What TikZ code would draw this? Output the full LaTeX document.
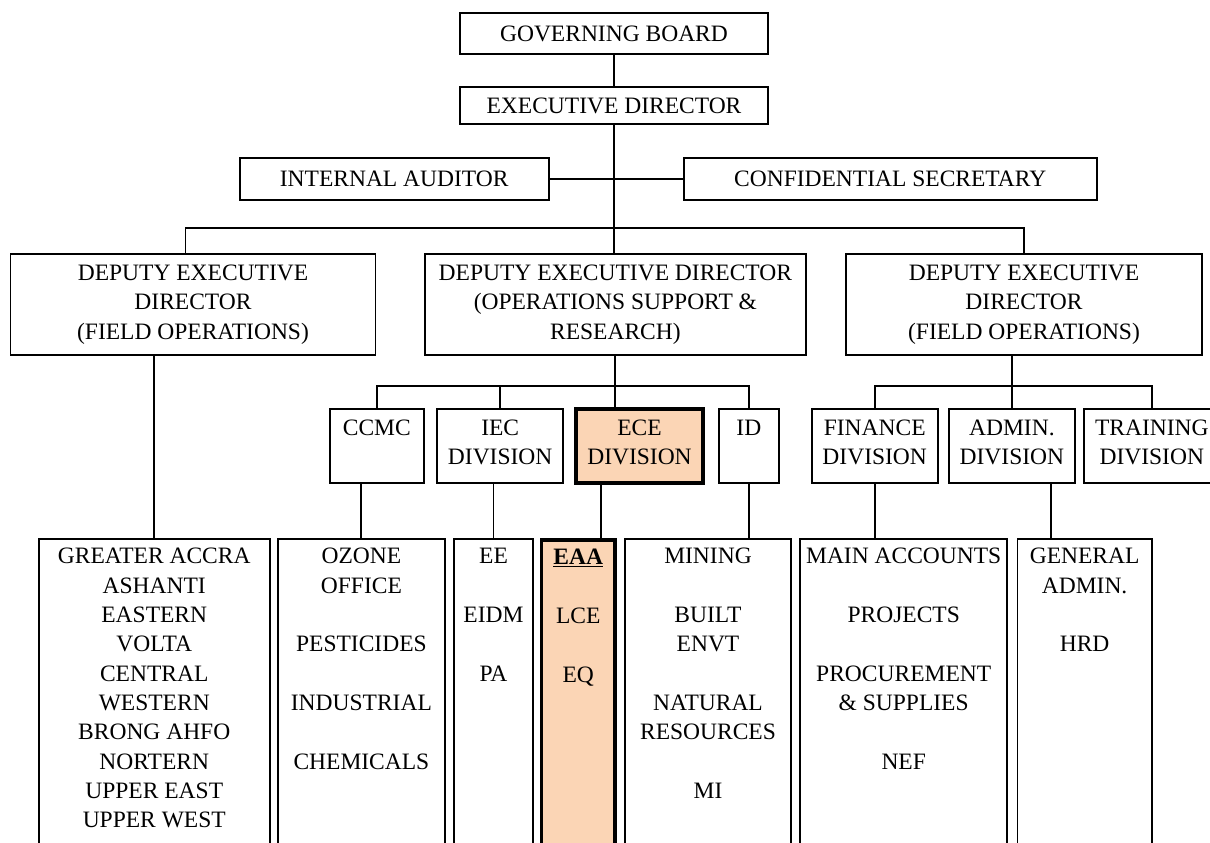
\documentclass[tikz,border=0pt]{standalone}
\usepackage{fontspec}
\setmainfont{Liberation Serif}
\definecolor{peach}{HTML}{FBD5B5}
\newcommand\chartfont{\fontsize{23.5pt}{29.3pt}\selectfont}
% width, height, first-baseline strut, lines (top aligned, centred)
\newcommand\topstack[4]{\parbox[c][#2][t]{#1}{\centering\rule{0pt}{#3}#4\par}}
\newcommand\gap{29.3pt}
\begin{document}
\begin{tikzpicture}[x=1pt,y=-1pt,
  box/.style={draw, line width=1.9pt, inner sep=0pt, align=center, font=\chartfont},
  hot/.style={box, fill=peach, line width=3.6pt},
  link/.style={line width=1.9pt}]
\useasboundingbox (0,0) rectangle (1210,843);
\clip (0,0) rectangle (1210,843);

% top of the chart
\node[box, minimum width=308.5pt, minimum height=41pt] (gb) at (614,33.5) {GOVERNING BOARD};
\node[box, minimum width=308.5pt, minimum height=37pt] (ed) at (614,105.7) {EXECUTIVE DIRECTOR};
\node[box, minimum width=308.8pt, minimum height=42pt] (ia) at (394.2,179) {INTERNAL AUDITOR};
\node[box, minimum width=413.3pt, minimum height=42pt] (cs) at (890.2,179) {CONFIDENTIAL SECRETARY};

% deputy directors
\node[box, minimum width=365pt, minimum height=101pt] (dedL) at (193,304.5)
  {DEPUTY EXECUTIVE\\DIRECTOR\\(FIELD OPERATIONS)};
\node[box, minimum width=381pt, minimum height=101pt] (dedM) at (615.4,304.5)
  {DEPUTY EXECUTIVE DIRECTOR\\(OPERATIONS SUPPORT \&\\RESEARCH)};
\node[box, minimum width=356pt, minimum height=101pt] (dedR) at (1024,304.5)
  {DEPUTY EXECUTIVE\\DIRECTOR\\(FIELD OPERATIONS)};

% divisions
\node[box] (ccmc) at (376.8,446) {\topstack{94.4pt}{74pt}{26pt}{CCMC}};
\node[box] (iec)  at (500.2,446) {\topstack{126.4pt}{74pt}{26pt}{IEC\\DIVISION}};
\node[hot] (ece)  at (639.5,446) {\topstack{127pt}{74pt}{26pt}{ECE\\DIVISION}};
\node[box] (id)   at (748.85,446) {\topstack{60.3pt}{74pt}{26pt}{ID}};
\node[box] (fin)  at (874.7,446) {\topstack{126pt}{74pt}{26pt}{FINANCE\\DIVISION}};
\node[box] (adm)  at (1011.9,446) {\topstack{125.7pt}{74pt}{26pt}{ADMIN.\\DIVISION}};
\node[box] (trn)  at (1151.8,446) {\topstack{136pt}{74pt}{26pt}{TRAINING\\DIVISION}};

% units
\node[box, anchor=north] (reg) at (154.25,538) {\topstack{230.7pt}{320pt}{25pt}{GREATER ACCRA\\ASHANTI\\EASTERN\\VOLTA\\CENTRAL\\WESTERN\\BRONG AHFO\\NORTERN\\UPPER EAST\\UPPER WEST}};
\node[box, anchor=north] (ccmcS) at (361.4,538) {\topstack{167.2pt}{320pt}{25pt}{OZONE\\OFFICE\\[\gap]PESTICIDES\\[\gap]INDUSTRIAL\\[\gap]CHEMICALS}};
\node[box, anchor=north] (iecS) at (493.5,538) {\topstack{79pt}{320pt}{25pt}{EE\\[\gap]EIDM\\[\gap]PA}};
\node[hot, anchor=north] (eceS) at (578.2,538) {\topstack{73.2pt}{320pt}{25pt}{\underline{\textbf{EAA}}\\[\gap]LCE\\[\gap]EQ}};
\node[box, anchor=north] (idS) at (708,538) {\topstack{166pt}{320pt}{25pt}{MINING\\[\gap]BUILT\\ENVT\\[\gap]NATURAL\\RESOURCES\\[\gap]MI}};
\node[box, anchor=north] (finS) at (903.7,538) {\topstack{207.4pt}{320pt}{25pt}{MAIN ACCOUNTS\\[\gap]PROJECTS\\[\gap]PROCUREMENT\\\& SUPPLIES\\[\gap]NEF}};
\node[box, anchor=north] (admS) at (1084.6,538) {\topstack{134.3pt}{320pt}{25pt}{GENERAL\\ADMIN.\\[\gap]HRD}};

% bus levels and off-centre columns
\coordinate (busL) at (185.5,228.3);
\coordinate (subM) at (0,386);
\coordinate (subR) at (0,386);
\coordinate (eceCol) at (601,0);
\coordinate (admCol) at (1050.6,0);

% connectors
\draw[link] (gb) -- (ed);
\draw[link] (ed.south) -- (ed.south |- dedM.north);
\draw[link] (ia) -- (cs);
\draw[link] (dedL.north -| busL) -- (busL) -- (busL -| dedR.north) -- (dedR.north);
\draw[link] (dedL.south -| reg.north) -- (reg.north);

\draw[link] (dedM.south) -- (dedM.south |- ece.north);
\draw[link] (ccmc.north) -- (ccmc.north |- subM) -- (id.north |- subM) -- (id.north);
\draw[link] (iec.north) -- (iec.north |- subM);
\draw[link] (ccmc.south -| ccmcS.north) -- (ccmcS.north);
\draw[link] (iec.south -| iecS.north) -- (iecS.north);
\draw[link] (ece.south -| eceCol) -- (eceS.north -| eceCol);
\draw[link] (id.south) -- (id.south |- idS.north);

\draw[link] (dedR.south -| adm.north) -- (adm.north);
\draw[link] (fin.north) -- (fin.north |- subR) -- (trn.north |- subR) -- (trn.north);
\draw[link] (fin.south) -- (fin.south |- finS.north);
\draw[link] (adm.south -| admCol) -- (admS.north -| admCol);
\end{tikzpicture}
\end{document}
